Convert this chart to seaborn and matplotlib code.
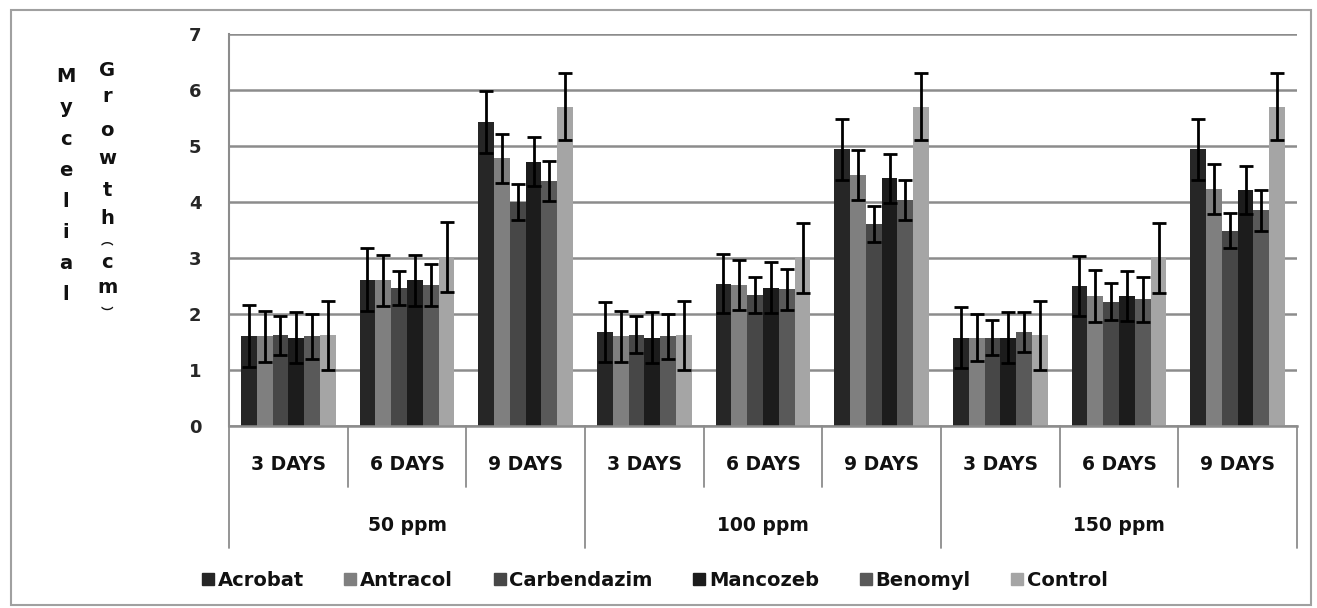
import numpy as np
import pandas as pd
import seaborn as sns
import matplotlib.pyplot as plt
from matplotlib.patches import Rectangle
from matplotlib.lines import Line2D
import matplotlib.transforms as mtransforms


# data
ppm_labels = ['50 ppm', '100 ppm', '150 ppm']
day_labels = ['3 DAYS', '6 DAYS', '9 DAYS']
fungicides = ['Acrobat', 'Antracol', 'Carbendazim', 'Mancozeb', 'Benomyl', 'Control']

acrobat = [1.61, 2.61, 5.43, 1.68, 2.54, 4.94, 1.58, 2.50, 4.94]
antracol = [1.60, 2.60, 4.78, 1.60, 2.52, 4.48, 1.58, 2.32, 4.23]
carbendazim = [1.62, 2.46, 4.00, 1.63, 2.34, 3.60, 1.58, 2.22, 3.49]
mancozeb = [1.58, 2.60, 4.72, 1.58, 2.47, 4.42, 1.58, 2.32, 4.21]
benomyl = [1.60, 2.52, 4.37, 1.60, 2.44, 4.03, 1.68, 2.26, 3.85]
control = [1.62, 3.02, 5.70, 1.62, 3.00, 5.70, 1.62, 3.00, 5.70]

acrobat_err = [0.55, 0.56, 0.55, 0.53, 0.53, 0.54, 0.55, 0.54, 0.55]
antracol_err = [0.45, 0.45, 0.44, 0.45, 0.44, 0.44, 0.42, 0.46, 0.45]
carbendazim_err = [0.35, 0.30, 0.32, 0.33, 0.32, 0.32, 0.32, 0.33, 0.32]
mancozeb_err = [0.45, 0.45, 0.44, 0.45, 0.45, 0.44, 0.45, 0.45, 0.43]
benomyl_err = [0.40, 0.38, 0.36, 0.40, 0.36, 0.36, 0.35, 0.40, 0.36]
control_err = [0.62, 0.62, 0.60, 0.62, 0.62, 0.60, 0.62, 0.62, 0.60]

colors = ['#262626', '#7f7f7f', '#474747', '#1c1c1c', '#595959', '#a5a5a5']

values = [acrobat, antracol, carbendazim, mancozeb, benomyl, control]
errors = [acrobat_err, antracol_err, carbendazim_err, mancozeb_err, benomyl_err, control_err]

# y axis title, stacked one character per line like the original
ylabel_word1 = list('Mycelial')
ylabel_word2 = list('Growth') + ['\ufe35', 'c', 'm', '\ufe36']

#build long table
groups = [p + '|' + d for p in ppm_labels for d in day_labels]
rows = []
for name, vals, errs in zip(fungicides, values, errors):
    for g, v, e in zip(groups, vals, errs):
        rows.append({'group': g, 'fungicide': name, 'growth': v, 'err': e})
df = pd.DataFrame(rows)

sns.set_theme(style='white')
plt.rcParams['font.family'] = ['DejaVu Sans', 'Noto Sans CJK SC']
plt.rcParams['font.weight'] = 'bold'
plt.rcParams['text.color'] = '#111111'

fig = plt.figure(figsize=(13.17, 6.08), dpi=100)
W, H = 1317, 608
ax = fig.add_axes([229 / W, 1 - 426 / H, (1297 - 229) / W, (426 - 34) / H])

sns.barplot(data=df, x='group', y='growth', hue='fungicide', order=groups,
            hue_order=fungicides, palette=colors, errorbar=None, width=0.8,
            saturation=1, linewidth=0, ax=ax, legend=False)

#error bars on top of the bars
for cont, errs in zip(ax.containers, errors):
    xs = [p.get_x() + p.get_width() / 2 for p in cont.patches]
    hs = [p.get_height() for p in cont.patches]
    ax.errorbar(xs, hs, yerr=errs, fmt='none', ecolor='black',
                elinewidth=2, capsize=5, capthick=2, zorder=5)

ax.set_ylim(0, 7)
ax.set_xlim(-0.5, len(groups) - 0.5)
ax.set_yticks(range(8))
ax.set_yticklabels([str(i) for i in range(8)], fontsize=13, fontweight='bold')
ax.yaxis.grid(True, color='#8c8c8c', linewidth=1.8)
ax.set_axisbelow(True)
ax.tick_params(axis='y', length=7, width=1.8, color='#8c8c8c', pad=13)
ax.set_xticks([])
ax.set_xlabel('')
ax.set_ylabel('')
for s in ['top', 'right']:
    ax.spines[s].set_visible(False)
ax.spines['left'].set_color('#8c8c8c')
ax.spines['left'].set_linewidth(1.5)
ax.spines['bottom'].set_color('#8c8c8c')
ax.spines['bottom'].set_linewidth(1.8)

#two level category axis
trans = mtransforms.blended_transform_factory(ax.transData, ax.transAxes)
for i in range(len(groups) + 1):
    x = i - 0.5
    low = -0.311 if i % 3 == 0 else -0.156
    ax.add_line(Line2D([x, x], [0, low], transform=trans, color='#8c8c8c',
                       linewidth=1.3, clip_on=False))
for i, g in enumerate(groups):
    ax.text(i, -0.097, g.split('|')[1], transform=trans, ha='center', va='center',
            fontsize=13.5, fontweight='bold')
for j, p in enumerate(ppm_labels):
    ax.text(j * 3 + 1, -0.253, p, transform=trans, ha='center', va='center',
            fontsize=13.5, fontweight='bold')

#stacked y label
word1_y = [77 + 31 * k for k in range(len(ylabel_word1))]
word2_y = [70, 97, 130, 158, 191, 219, 241, 262, 288, 313]
word2_size = [14, 14, 14, 14, 14, 14, 9, 14, 14, 9]
for ch, y in zip(ylabel_word1, word1_y):
    fig.text(66 / W, 1 - y / H, ch, ha='center', va='center', fontsize=14, fontweight='bold')
for ch, y, fs in zip(ylabel_word2, word2_y, word2_size):
    fig.text(107 / W, 1 - y / H, ch, ha='center', va='center', fontsize=fs,
             fontweight='bold', family=['DejaVu Sans', 'Noto Sans CJK SC'])

#legend
handles = [Line2D([], [], marker='s', linestyle='none', markersize=8,
                  markerfacecolor=c, markeredgecolor=c) for c in colors]
fig.legend(handles, fungicides, loc='center', bbox_to_anchor=(654 / W, 1 - 580 / H),
           ncol=6, frameon=False, fontsize=14, handletextpad=0.1, columnspacing=2.0,
           handlelength=0.8)

#outer frame
fig.patches.append(Rectangle((11 / W, 1 - 605 / H), (1311 - 11) / W, (605 - 10) / H,
                             transform=fig.transFigure, fill=False,
                             edgecolor='#a0a0a0', linewidth=1.5))

fig.savefig('out.png', dpi=100)
